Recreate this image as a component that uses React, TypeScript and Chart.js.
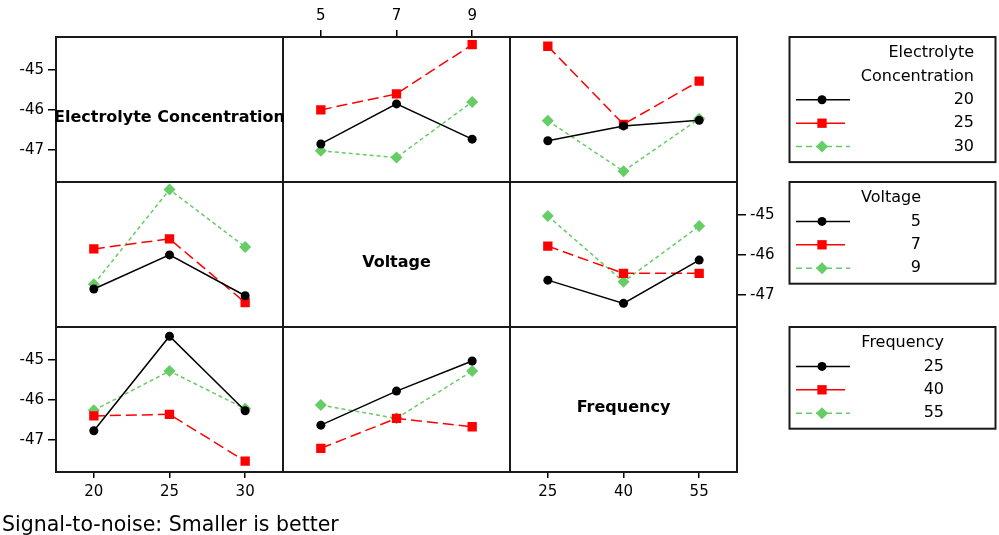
import React, { useEffect, useRef } from 'react';
import { Chart, registerables } from 'chart.js';

Chart.register(...registerables);

// ---------- data ----------
const ecLevels = ['20', '25', '30'];
const voltageLevels = ['5', '7', '9'];
const frequencyLevels = ['25', '40', '55'];
const factorNames = ['Electrolyte Concentration', 'Voltage', 'Frequency'];
const yTicks = [-45, -46, -47];
const footnote = 'Signal-to-noise: Smaller is better';

// mean S/N ratio: rows = electrolyte concentration level, columns = voltage level
const ecByVoltage = [
  [-46.85, -45.85, -46.73],
  [-46.0, -45.6, -44.37],
  [-47.02, -47.19, -45.8],
];
// rows = electrolyte concentration level, columns = frequency level
const ecByFrequency = [
  [-46.77, -46.4, -46.26],
  [-44.41, -46.36, -45.28],
  [-46.27, -47.53, -46.22],
];
// rows = voltage level, columns = frequency level
const voltageByFrequency = [
  [-46.63, -47.21, -46.13],
  [-45.78, -46.46, -46.46],
  [-45.03, -46.67, -45.28],
];

// ---------- styles ----------
const yMin = -47.8;
const yMax = -44.18;
const seriesStyles = [
  { color: '#000000', pointStyle: 'circle', radius: 4.5, dash: [] as number[] },
  { color: '#ff0000', pointStyle: 'rect', radius: 6.6, dash: [11, 5] },
  { color: '#66cc66', pointStyle: 'rectRot', radius: 6, dash: [4, 3] },
];
const tickFont = { family: 'DejaVu Sans', size: 15 };

function transpose(m: number[][]): number[][] {
  return m[0].map((_, j) => m.map((row) => row[j]));
}

const panels = [
  { x: 'x2', y: 'y1', lines: ecByVoltage },
  { x: 'x3', y: 'y1', lines: ecByFrequency },
  { x: 'x1', y: 'y2', lines: transpose(ecByVoltage) },
  { x: 'x3', y: 'y2', lines: voltageByFrequency },
  { x: 'x1', y: 'y3', lines: transpose(ecByFrequency) },
  { x: 'x2', y: 'y3', lines: transpose(voltageByFrequency) },
];

const legendSpecs = [
  { title: ['Electrolyte', 'Concentration'], levels: ecLevels, row: 'y1', textRight: 974 },
  { title: ['Voltage'], levels: voltageLevels, row: 'y2', textRight: 921 },
  { title: ['Frequency'], levels: frequencyLevels, row: 'y3', textRight: 944 },
];

function yScale(pos: 'left' | 'right', stack: string, visible: boolean) {
  return {
    type: 'linear',
    position: pos,
    stack,
    stackWeight: 1,
    min: yMin,
    max: yMax,
    display: visible,
    afterBuildTicks: (s: any) => {
      s.ticks = yTicks.map((v) => ({ value: v }));
    },
    afterFit: (s: any) => {
      s.width = pos === 'left' ? 56 : 40;
    },
    grid: {
      drawOnChartArea: false,
      drawTicks: true,
      tickLength: pos === 'left' ? 8 : 9,
      color: '#000',
      lineWidth: 1.5,
    },
    border: { display: false },
    ticks: {
      color: '#000',
      font: tickFont,
      padding: pos === 'left' ? 4 : 4,
      callback: (v: any) => String(v),
    },
  };
}

function xScale(pos: 'top' | 'bottom', stack: string, labels: string[], visible: boolean) {
  return {
    type: 'category',
    labels,
    offset: true,
    position: pos,
    stack,
    stackWeight: 1,
    display: visible,
    afterFit: (s: any) => {
      s.height = pos === 'top' ? 37 : 30;
    },
    grid: {
      drawOnChartArea: false,
      drawTicks: true,
      tickLength: pos === 'top' ? 7 : 6,
      color: '#000',
      lineWidth: 1.5,
      offset: false,
    },
    border: { display: false },
    ticks: { color: '#000', font: tickFont, padding: 5, maxRotation: 0, autoSkip: false },
  };
}

function drawMarker(ctx: CanvasRenderingContext2D, st: any, x: number, y: number) {
  ctx.save();
  ctx.fillStyle = st.color;
  ctx.beginPath();
  if (st.pointStyle === 'circle') {
    ctx.arc(x, y, st.radius, 0, Math.PI * 2);
  } else if (st.pointStyle === 'rect') {
    const s = st.radius * Math.SQRT1_2;
    ctx.rect(x - s, y - s, 2 * s, 2 * s);
  } else {
    const r = st.radius;
    ctx.moveTo(x, y - r);
    ctx.lineTo(x + r, y);
    ctx.lineTo(x, y + r);
    ctx.lineTo(x - r, y);
    ctx.closePath();
  }
  ctx.fill();
  ctx.restore();
}

const matrixPlugin = {
  id: 'matrixDecor',
  beforeDatasetsDraw(chart: any) {
    const ctx: CanvasRenderingContext2D = chart.ctx;
    const cols = ['x1', 'x2', 'x3'].map((id) => chart.scales[id]);
    const rows = ['y1', 'y2', 'y3'].map((id) => chart.scales[id]);
    ctx.save();
    ctx.strokeStyle = '#1a1a1a';
    ctx.lineWidth = 2;
    for (const c of cols) {
      for (const r of rows) {
        ctx.strokeRect(c.left, r.top, c.right - c.left, r.bottom - r.top);
      }
    }
    ctx.restore();
  },
  afterDraw(chart: any) {
    const ctx: CanvasRenderingContext2D = chart.ctx;
    ctx.save();
    // diagonal factor names
    ctx.fillStyle = '#000';
    ctx.font = 'bold 16px "DejaVu Sans"';
    ctx.textAlign = 'center';
    ctx.textBaseline = 'alphabetic';
    factorNames.forEach((name, i) => {
      const c = chart.scales['x' + (i + 1)];
      const r = chart.scales['y' + (i + 1)];
      ctx.fillText(name, (c.left + c.right) / 2, (r.top + r.bottom) / 2 + 12.5);
    });

    // legends
    const boxLeft = 789.5;
    const boxRight = 995.5;
    const rowStep = 23.4;
    ctx.font = '16px "DejaVu Sans"';
    ctx.textAlign = 'right';
    ctx.textBaseline = 'middle';
    for (const spec of legendSpecs) {
      const top = chart.scales[spec.row].top;
      const nRows = spec.title.length + spec.levels.length;
      const h = 16 + (nRows - 1) * rowStep + 15.5;
      ctx.strokeStyle = '#1a1a1a';
      ctx.lineWidth = 2;
      ctx.strokeRect(boxLeft, top, boxRight - boxLeft, h);
      let y = top + 16;
      ctx.fillStyle = '#000';
      for (const t of spec.title) {
        ctx.fillText(t, spec.textRight, y);
        y += rowStep;
      }
      spec.levels.forEach((lv, i) => {
        const st = seriesStyles[i];
        ctx.save();
        ctx.strokeStyle = st.color;
        ctx.lineWidth = 1.5;
        if (i === 2) ctx.setLineDash([6, 4]);
        ctx.beginPath();
        ctx.moveTo(796, y);
        ctx.lineTo(i === 1 ? 845 : 850, y);
        ctx.stroke();
        ctx.restore();
        drawMarker(ctx, st, 822, y);
        ctx.fillStyle = '#000';
        ctx.fillText(lv, spec.textRight, y);
        y += rowStep;
      });
    }

    // footnote
    ctx.font = '20.5px "DejaVu Sans"';
    ctx.textAlign = 'left';
    ctx.textBaseline = 'alphabetic';
    ctx.fillStyle = '#000';
    ctx.fillText(footnote, 2, 530.5);
    ctx.restore();
  },
};

export default function App() {
  const ref = useRef<HTMLCanvasElement | null>(null);

  useEffect(() => {
    if (!ref.current) return;
    const datasets: any[] = [];
    panels.forEach((p) => {
      p.lines.forEach((vals, i) => {
        const st = seriesStyles[i];
        datasets.push({
          data: vals,
          xAxisID: p.x,
          yAxisID: p.y,
          borderColor: st.color,
          backgroundColor: st.color,
          borderWidth: 1.5,
          borderDash: st.dash,
          pointStyle: st.pointStyle,
          pointRadius: st.radius,
          pointBackgroundColor: st.color,
          pointBorderColor: st.color,
          pointBorderWidth: 0,
          tension: 0,
          fill: false,
        });
      });
    });

    const scales: any = {
      // left / top stacks are laid out in reverse creation order
      y3: yScale('left', 'L', true),
      y2: yScale('left', 'L', false),
      y1: yScale('left', 'L', true),
      yR1: yScale('right', 'R', false),
      yR2: yScale('right', 'R', true),
      yR3: yScale('right', 'R', false),
      xT3: xScale('top', 'T', frequencyLevels, false),
      xT2: xScale('top', 'T', voltageLevels, true),
      xT1: xScale('top', 'T', ecLevels, false),
      x1: xScale('bottom', 'B', ecLevels, true),
      x2: xScale('bottom', 'B', voltageLevels, false),
      x3: xScale('bottom', 'B', frequencyLevels, true),
    };

    const chart = new Chart(ref.current, {
      type: 'line',
      data: { datasets },
      options: {
        animation: false,
        responsive: false,
        devicePixelRatio: 1,
        events: [],
        layout: { padding: { left: 0, right: 222, top: 0, bottom: 33 } },
        scales,
        plugins: { legend: { display: false }, tooltip: { enabled: false }, title: { display: false } },
      } as any,
      plugins: [matrixPlugin as any],
    });
    return () => chart.destroy();
  }, []);

  return (
    <div style={{ position: 'fixed', left: 0, top: 0, width: 999, height: 535, background: '#fff' }}>
      <canvas ref={ref} width={999} height={535} style={{ display: 'block' }} />
    </div>
  );
}
